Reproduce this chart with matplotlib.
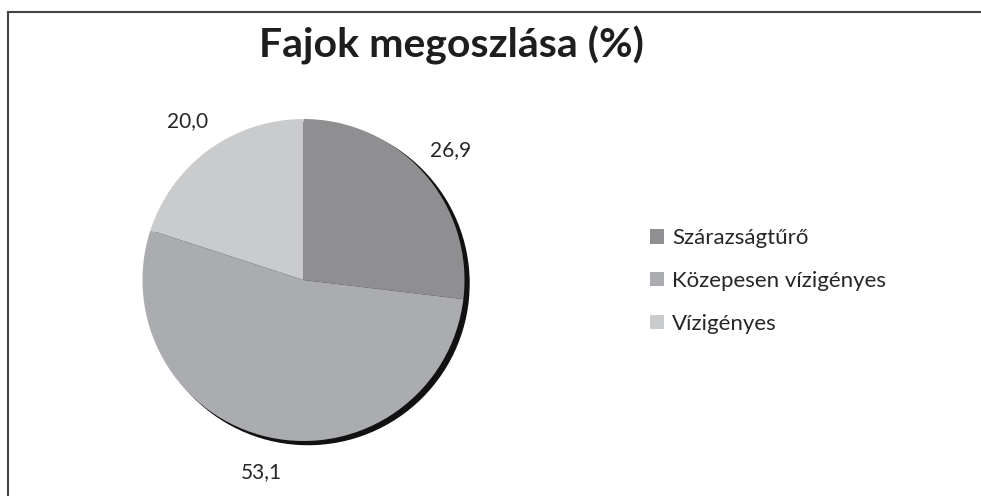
import matplotlib
matplotlib.use("Agg")
import matplotlib.pyplot as plt
from matplotlib.patches import Patch, Circle
from matplotlib.lines import Line2D

categories = ["Szárazságtűrő", "Közepesen vízigényes", "Vízigényes"]
values = [26.9, 53.1, 20.0]
colors = ["#8f8f91", "#abacb0", "#cacbcd"]
title = "Fajok megoszlása (%)"

W, H = 981, 496
fig = plt.figure(figsize=(W / 100, H / 100), dpi=100)
plt.rcParams['font.family'] = ['Lato', 'DejaVu Sans']

# pie axes: centre (303.5, 280 from top), radius 161 px
R = 161
cx, cy = 303.5, H - 280
half = 1.3 * R
ax = fig.add_axes([(cx - half) / W, (cy - half) / H, 2 * half / W, 2 * half / H])

# shadow
ax.add_patch(Circle((0.028, -0.022), 1.0, color="#111111", zorder=0))

wedges, texts, autotexts = ax.pie(
    values, colors=colors, startangle=90, counterclock=False,
    autopct=lambda p: f"{p:.1f}".replace(".", ","), pctdistance=1.22,
    textprops=dict(fontsize=15, color="#262626"),
    wedgeprops=dict(linewidth=0, zorder=1))
ax.set_xlim(-1.3, 1.3)
ax.set_ylim(-1.3, 1.3)
ax.set_aspect("equal")
ax.axis("off")

fig.text(451 / W, 1 - 45 / H, title, ha="center", va="center",
         fontsize=29.5, fontweight="bold", color="#1e1e1e")

handles = [Patch(facecolor=c, edgecolor="none") for c in colors]
fig.legend(handles, categories, loc="center left",
           bbox_to_anchor=(650 / W, 1 - 281 / H), frameon=False,
           fontsize=16, borderpad=0, borderaxespad=0,
           handlelength=0.63, handleheight=0.63,
           handletextpad=0.36, labelspacing=1.02, labelcolor="#262626")

# border lines (top and left)
fig.add_artist(Line2D([7.5 / W, 1.0], [1 - 11.5 / H, 1 - 11.5 / H],
                      transform=fig.transFigure, color="#444444", lw=1.5))
fig.add_artist(Line2D([7.5 / W, 7.5 / W], [0, 1 - 11.5 / H],
                      transform=fig.transFigure, color="#444444", lw=1.5))

fig.savefig("out.png", dpi=100)
